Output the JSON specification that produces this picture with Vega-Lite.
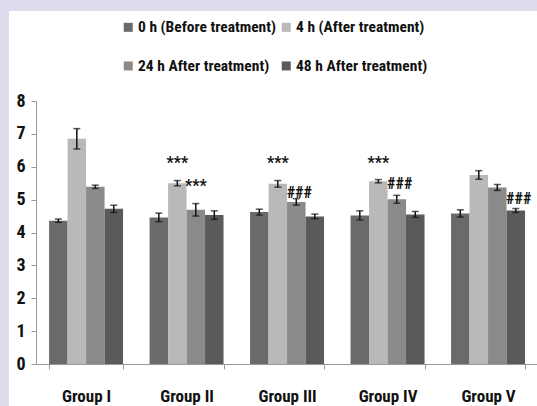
{
  "$schema": "https://vega.github.io/schema/vega-lite/v6.json",
  "padding": 0,
  "background": "white",
  "spacing": 0,
  "resolve": {"scale": {"color": "independent"}, "legend": {"color": "independent"}},
  "config": {
    "view": {"stroke": null},
    "font": "Roboto Condensed, Liberation Sans, sans-serif",
    "axisY": {
      "tickCount": 8,
      "grid": false,
      "offset": -27,
      "tickSize": 5,
      "tickColor": "#999999",
      "domainColor": "#999999",
      "labelPadding": 6,
      "labelFontSize": 18,
      "labelFontWeight": "bold",
      "labelColor": "#111111",
      "labelOverlap": false
    }
  },
  "datasets": {
    "bars": [
      {"group": "Group I", "time": "0 h (Before treatment)", "value": 4.36, "lo": 4.31, "hi": 4.41},
      {"group": "Group I", "time": "4 h (After treatment)", "value": 6.85, "lo": 6.54, "hi": 7.16},
      {"group": "Group I", "time": "24 h After treatment)", "value": 5.39, "lo": 5.34, "hi": 5.44},
      {"group": "Group I", "time": "48 h After treatment)", "value": 4.72, "lo": 4.61, "hi": 4.83},
      {"group": "Group II", "time": "0 h (Before treatment)", "value": 4.46, "lo": 4.33, "hi": 4.59},
      {"group": "Group II", "time": "4 h (After treatment)", "value": 5.50, "lo": 5.42, "hi": 5.58},
      {"group": "Group II", "time": "24 h After treatment)", "value": 4.69, "lo": 4.50, "hi": 4.88},
      {"group": "Group II", "time": "48 h After treatment)", "value": 4.53, "lo": 4.40, "hi": 4.66},
      {"group": "Group III", "time": "0 h (Before treatment)", "value": 4.62, "lo": 4.53, "hi": 4.71},
      {"group": "Group III", "time": "4 h (After treatment)", "value": 5.48, "lo": 5.38, "hi": 5.58},
      {"group": "Group III", "time": "24 h After treatment)", "value": 4.93, "lo": 4.83, "hi": 5.03},
      {"group": "Group III", "time": "48 h After treatment)", "value": 4.49, "lo": 4.42, "hi": 4.56},
      {"group": "Group IV", "time": "0 h (Before treatment)", "value": 4.52, "lo": 4.38, "hi": 4.66},
      {"group": "Group IV", "time": "4 h (After treatment)", "value": 5.56, "lo": 5.51, "hi": 5.61},
      {"group": "Group IV", "time": "24 h After treatment)", "value": 5.01, "lo": 4.89, "hi": 5.13},
      {"group": "Group IV", "time": "48 h After treatment)", "value": 4.55, "lo": 4.46, "hi": 4.64},
      {"group": "Group V", "time": "0 h (Before treatment)", "value": 4.58, "lo": 4.47, "hi": 4.69},
      {"group": "Group V", "time": "4 h (After treatment)", "value": 5.75, "lo": 5.62, "hi": 5.88},
      {"group": "Group V", "time": "24 h After treatment)", "value": 5.37, "lo": 5.28, "hi": 5.46},
      {"group": "Group V", "time": "48 h After treatment)", "value": 4.67, "lo": 4.61, "hi": 4.73}
    ],
    "stars": [
      {"group": "Group II", "time": "4 h (After treatment)", "pos": 6.25, "label": "***"},
      {"group": "Group II", "time": "24 h After treatment)", "pos": 5.53, "label": "***"},
      {"group": "Group III", "time": "4 h (After treatment)", "pos": 6.23, "label": "***"},
      {"group": "Group IV", "time": "4 h (After treatment)", "pos": 6.25, "label": "***"}
    ],
    "hashes": [
      {"group": "Group III", "time": "24 h After treatment)", "pos": 5.24, "label": "###"},
      {"group": "Group IV", "time": "24 h After treatment)", "pos": 5.50, "label": "###"},
      {"group": "Group V", "time": "48 h After treatment)", "pos": 5.04, "label": "###"}
    ]
  },
  "hconcat": [
    {
      "width": 9,
      "height": 406,
      "data": {"values": [{"strip": "left"}]},
      "mark": {"type": "point", "opacity": 0},
      "encoding": {},
      "view": {"fill": "#dcdcec", "stroke": null}
    },
    {
      "columns": 1,
      "align": "none",
      "spacing": 0,
      "resolve": {"scale": {"color": "independent"}, "legend": {"color": "independent"}},
      "concat": [
        {
          "width": 528,
          "height": 11,
          "data": {"values": [{"strip": "top"}]},
          "mark": {"type": "point", "opacity": 0},
          "encoding": {},
          "view": {"fill": "#dcdcec", "stroke": null}
        },
        {
          "width": 528,
          "height": 263,
          "view": {"stroke": null},
          "encoding": {
            "x": {
              "field": "group",
              "type": "nominal",
              "scale": {
                "domain": ["Group I", "Group II", "Group III", "Group IV", "Group V"],
                "paddingInner": 0.264,
                "paddingOuter": 0.259,
                "align": 0.77
              },
              "axis": {
                "title": null,
                "labelAngle": 0,
                "tickBand": "extent",
                "tickSize": 5,
                "tickColor": "#999999",
                "domainColor": "#999999",
                "domainDash": [0, 27, 600, 0],
                "labelPadding": 19,
                "labelFontSize": 17,
                "labelFontWeight": "bold",
                "labelColor": "#111111"
              }
            },
            "xOffset": {
              "field": "time",
              "type": "nominal",
              "scale": {
                "domain": ["0 h (Before treatment)", "4 h (After treatment)", "24 h After treatment)", "48 h After treatment)"],
                "paddingInner": 0,
                "paddingOuter": 0
              }
            }
          },
          "layer": [
            {
              "data": {"name": "bars"},
              "mark": {"type": "bar"},
              "encoding": {
                "y": {
                  "field": "value",
                  "type": "quantitative",
                  "scale": {"domain": [0, 8], "nice": false},
                  "axis": {"title": null}
                },
                "color": {
                  "field": "time",
                  "type": "nominal",
                  "scale": {
                    "domain": ["0 h (Before treatment)", "4 h (After treatment)", "24 h After treatment)", "48 h After treatment)"],
                    "range": ["#6a6a6a", "#b9b9b9", "#8a8a8a", "#5a5a5a"]
                  },
                  "legend": {
                    "title": null,
                    "orient": "none",
                    "legendX": 104,
                    "legendY": -89.3,
                    "padding": 7.5,
                    "columns": 2,
                    "direction": "horizontal",
                    "symbolType": "square",
                    "symbolSize": 81,
                    "symbolStrokeWidth": 0,
                    "labelFontSize": 15.5,
                    "labelFontWeight": "bold",
                    "labelColor": "#111111",
                    "labelLimit": 400,
                    "labelOffset": 2,
                    "columnPadding": 2,
                    "rowPadding": 22
                  }
                }
              }
            },
            {
              "data": {"name": "bars"},
              "mark": {"type": "rule", "color": "#111111", "strokeWidth": 1.5},
              "encoding": {
                "y": {"field": "lo", "type": "quantitative", "axis": {"title": null}},
                "y2": {"field": "hi"}
              }
            },
            {
              "data": {"name": "bars"},
              "mark": {"type": "tick", "color": "#111111", "thickness": 1.5, "size": 7},
              "encoding": {
                "y": {"field": "lo", "type": "quantitative", "axis": {"title": null}}
              }
            },
            {
              "data": {"name": "bars"},
              "mark": {"type": "tick", "color": "#111111", "thickness": 1.5, "size": 7},
              "encoding": {
                "y": {"field": "hi", "type": "quantitative", "axis": {"title": null}}
              }
            },
            {
              "data": {"name": "stars"},
              "mark": {"type": "text", "fontSize": 16, "fontWeight": "bold", "color": "#111111", "baseline": "middle", "dy": 4},
              "encoding": {
                "y": {"field": "pos", "type": "quantitative", "axis": {"title": null}},
                "text": {"field": "label"}
              }
            },
            {
              "data": {"name": "hashes"},
              "mark": {"type": "text", "fontSize": 16, "fontWeight": "bold", "color": "#111111", "baseline": "middle", "dy": 1, "dx": 3},
              "encoding": {
                "y": {"field": "pos", "type": "quantitative", "axis": {"title": null}},
                "text": {"field": "label"}
              }
            }
          ]
        }
      ]
    }
  ]
}
